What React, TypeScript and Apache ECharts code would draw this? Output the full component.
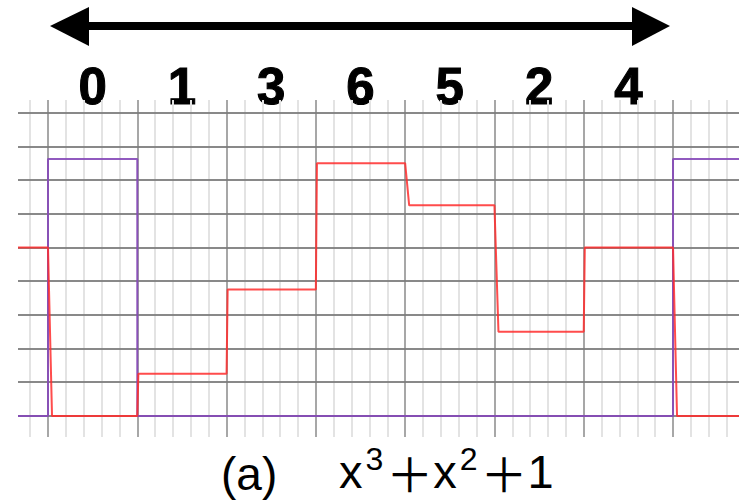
import React, { useEffect, useRef } from "react";
import * as echarts from "echarts";

// Code word sent in one period, in order, and the level each slot settles at.
const PERIOD_CODES = [0, 1, 3, 6, 5, 2, 4];
// Frame-sync pulse: high only during the first slot of each period.
const SYNC_LEVELS = [6.1, 0, 0, 0, 0, 0, 0];
const CODE_LABELS = PERIOD_CODES.map(String);
const CAPTION_TAG = "(a)";
const CAPTION_POLY = "{b|x}{s|3}{p|＋}{b|x}{s|2}{p|＋}{b|1}";

// Visible window, in slot units (slot 0 starts at 0).
const X_MIN = -0.336;
const X_MAX = 7.739;
const Y_MIN = -0.5;
const Y_MAX = 7.5;

// Scope graticule: major divisions per slot, 5 minor per major, levels every 0.8.
const MAJOR_X = [0, 1, 2, 3, 4, 5, 6, 7];
const MINOR_X: number[] = [];
for (let k = -1; k <= 38; k++) {
  if (k % 5 !== 0) MINOR_X.push(k / 5);
}
const LEVEL_Y: number[] = [];
for (let k = 0; k <= 9; k++) LEVEL_Y.push(+(k * 0.8).toFixed(2));

// Turn per-slot levels into a periodic step trace across the window.
function stepTrace(levels: number[], fallLag: number, riseLag: number) {
  const n = levels.length;
  let prev = levels[n - 1];
  const pts: number[][] = [[X_MIN, prev]];
  for (let i = 0; i <= n; i++) {
    const next = levels[i % n];
    pts.push([i, prev]);
    const lag = next < prev ? fallLag : next > prev ? riseLag : 0;
    pts.push([i + lag, next]);
    prev = next;
  }
  pts.push([X_MAX, prev]);
  return pts;
}

const FONT = "Liberation Sans, Arial, sans-serif";

export default function App() {
  const ref = useRef<HTMLDivElement>(null);

  useEffect(() => {
    if (!ref.current) return;
    const chart = echarts.init(ref.current, null, { renderer: "svg" });

    const vLine = (v: number, major: boolean) => ({
      xAxis: v,
      lineStyle: major
        ? { color: "#8a8a8a", width: 1.5, type: "solid" }
        : { color: "#e3e3e3", width: 2, type: "solid" },
    });

    chart.setOption({
      animation: false,
      backgroundColor: "#ffffff",
      grid: [
        { left: 18, right: 0, top: 100, bottom: 63 },
        { left: 48, right: 66, top: 100, height: 1 },
      ],
      xAxis: [
        {
          type: "value",
          gridIndex: 0,
          min: X_MIN,
          max: X_MAX,
          show: false,
        },
        {
          type: "category",
          gridIndex: 1,
          position: "top",
          data: CODE_LABELS,
          axisLine: { show: false },
          axisTick: { show: false },
          splitLine: { show: false },
          axisLabel: {
            margin: 14,
            verticalAlign: "middle",
            color: "#000",
            fontSize: 51,
            fontWeight: "bold",
            fontFamily: FONT,
            textBorderColor: "#000",
            textBorderWidth: 1.1,
          },
        },
      ],
      yAxis: [
        { type: "value", gridIndex: 0, min: Y_MIN, max: Y_MAX, show: false },
        { type: "value", gridIndex: 1, show: false },
      ],
      series: [
        {
          name: "graticule",
          type: "line",
          data: [],
          z: 1,
          silent: true,
          markLine: {
            z: 1,
            silent: true,
            symbol: ["none", "none"],
            label: { show: false },
            emphasis: { disabled: true },
            data: [
              ...MINOR_X.map((v) => vLine(v, false)),
              ...MAJOR_X.map((v) => vLine(v, true)),
              ...LEVEL_Y.map((v) => ({
                yAxis: v,
                lineStyle: { color: "#7c7c7c", width: 2, type: "solid", opacity: 0.9 },
              })),
            ],
          },
        },
        {
          name: "sync",
          type: "line",
          data: stepTrace(SYNC_LEVELS, 0, 0),
          showSymbol: false,
          symbol: "none",
          z: 6,
          lineStyle: { color: "#8548b8", width: 2, opacity: 0.9 },
        },
        {
          name: "code",
          type: "line",
          data: stepTrace(PERIOD_CODES, 0.045, 0.012),
          showSymbol: false,
          symbol: "none",
          z: 7,
          lineStyle: { color: "rgba(255,45,45,0.85)", width: 2 },
        },
      ],
      graphic: [
        {
          type: "rect",
          shape: { x: 85, y: 22, width: 551, height: 8 },
          style: { fill: "#000" },
        },
        {
          type: "polygon",
          shape: { points: [[50, 26], [89, 7], [89, 46]] },
          style: { fill: "#000" },
        },
        {
          type: "polygon",
          shape: { points: [[670, 26], [632, 7], [632, 46]] },
          style: { fill: "#000" },
        },
        {
          type: "text",
          x: 221,
          y: 474,
          style: {
            text: CAPTION_TAG,
            fill: "#000",
            fontSize: 46,
            fontFamily: FONT,
            verticalAlign: "middle",
            align: "left",
          },
        },
        {
          type: "text",
          x: 339,
          y: 471,
          style: {
            text: CAPTION_POLY,
            fill: "#000",
            fontFamily: FONT,
            verticalAlign: "middle",
            align: "left",
            lineHeight: 56,
            rich: {
              b: { fontSize: 47, fontFamily: FONT, fill: "#000", lineHeight: 56, verticalAlign: "middle" },
              s: {
                fontSize: 32,
                fontFamily: FONT,
                fill: "#000",
                lineHeight: 30,
                verticalAlign: "top",
                padding: [0, 3, 0, 3],
              },
              p: {
                fontSize: 47,
                fontFamily: "'Noto Sans CJK SC', 'DejaVu Sans', sans-serif",
                fill: "#000",
                lineHeight: 56,
                verticalAlign: "middle",
              },
            },
          },
        },
      ],
    });

    return () => chart.dispose();
  }, []);

  return (
    <div
      ref={ref}
      style={{ position: "fixed", left: 0, top: 0, width: 739, height: 500 }}
    />
  );
}
